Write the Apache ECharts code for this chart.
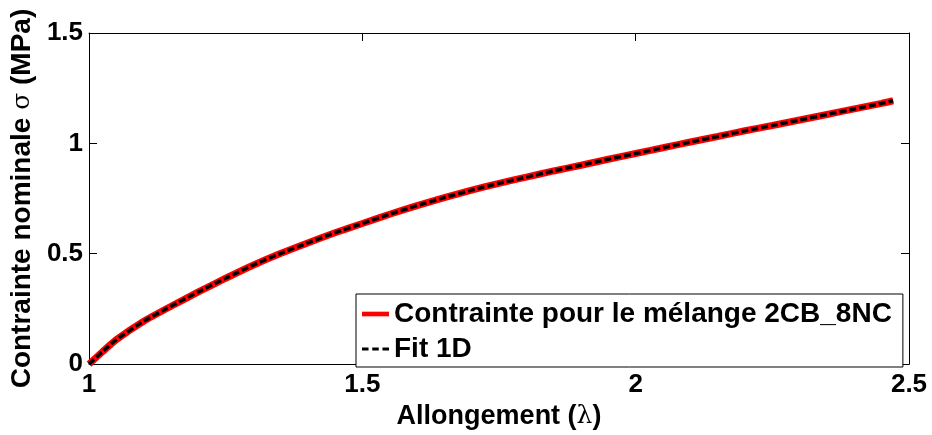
<!DOCTYPE html>
<html>
<head>
<meta charset="utf-8">
<script src="https://cdn.jsdelivr.net/npm/echarts@6/dist/echarts.min.js"></script>
<style>
html,body{margin:0;padding:0;background:#fff;}
#chart{width:932px;height:435px;}
</style>
</head>
<body>
<div id="chart"></div>
<script>
var lambdaValues = [1.00, 1.025, 1.05, 1.10, 1.15, 1.20, 1.25, 1.30, 1.35, 1.40, 1.45, 1.50, 1.55, 1.60, 1.65, 1.70, 1.75, 1.80, 1.85, 1.90, 1.95, 2.00, 2.05, 2.10, 2.15, 2.20, 2.25, 2.30, 2.35, 2.40, 2.45, 2.471];
var stressValues = [0, 0.057, 0.111, 0.194, 0.262, 0.327, 0.389, 0.448, 0.501, 0.549, 0.595, 0.637, 0.679, 0.718, 0.754, 0.788, 0.819, 0.847, 0.875, 0.901, 0.928, 0.954, 0.980, 1.006, 1.031, 1.057, 1.081, 1.106, 1.131, 1.156, 1.181, 1.193];
var fitValues = [0, 0.057, 0.111, 0.194, 0.262, 0.327, 0.389, 0.448, 0.501, 0.549, 0.595, 0.637, 0.679, 0.718, 0.754, 0.788, 0.819, 0.847, 0.875, 0.901, 0.928, 0.954, 0.980, 1.006, 1.031, 1.057, 1.081, 1.106, 1.131, 1.156, 1.181, 1.193];
var seriesNames = ['Contrainte pour le mélange 2CB_8NC', 'Fit 1D'];
var xAxisTitle = 'Allongement ({g|λ})';
var yAxisTitle = 'Contrainte nominale {g|σ} (MPa)';
var xTicks = {min: 1, max: 2.5, interval: 0.5};
var yTicks = {min: 0, max: 1.5, interval: 0.5};

function pairs(xs, ys) {
  return xs.map(function (x, i) { return [x, ys[i]]; });
}

var FONT = "'Liberation Sans', Arial, sans-serif";
var chart = echarts.init(document.getElementById('chart'), null, {renderer: 'canvas'});

function axisBase(extra) {
  var base = {
    type: 'value',
    splitLine: {show: false},
    axisLine: {show: true, onZero: false, lineStyle: {color: '#000', width: 1}},
    axisTick: {show: true, inside: true, length: 8, lineStyle: {color: '#000', width: 1}},
    axisLabel: {color: '#000', fontFamily: FONT, fontWeight: 'bold', fontSize: 26}
  };
  for (var k in extra) base[k] = extra[k];
  return base;
}

var option = {
  backgroundColor: '#fff',
  animation: false,
  grid: {left: 89, right: 23, top: 33, bottom: 64, containLabel: false},
  xAxis: [
    axisBase({
      min: xTicks.min, max: xTicks.max, interval: xTicks.interval,
      position: 'bottom',
      axisLabel: {color: '#000', fontFamily: FONT, fontWeight: 'bold', fontSize: 26, margin: 8},
      name: xAxisTitle,
      nameLocation: 'middle',
      nameGap: 30,
      nameTextStyle: {
        color: '#000', fontFamily: FONT, fontWeight: 'bold', fontSize: 27,
        rich: {g: {fontFamily: "'DejaVu Serif', serif", fontWeight: 'normal', fontSize: 25, color: '#000'}}
      }
    }),
    axisBase({
      min: xTicks.min, max: xTicks.max, interval: xTicks.interval,
      position: 'top',
      axisLabel: {show: false}
    })
  ],
  yAxis: [
    axisBase({
      min: yTicks.min, max: yTicks.max, interval: yTicks.interval,
      position: 'left',
      axisLabel: {color: '#000', fontFamily: FONT, fontWeight: 'bold', fontSize: 26, margin: 6},
      name: yAxisTitle,
      nameLocation: 'middle',
      nameGap: 45,
      nameTextStyle: {
        color: '#000', fontFamily: FONT, fontWeight: 'bold', fontSize: 28,
        rich: {g: {fontFamily: "'DejaVu Serif', serif", fontWeight: 'normal', fontSize: 25, color: '#000'}}
      }
    }),
    axisBase({
      min: yTicks.min, max: yTicks.max, interval: yTicks.interval,
      position: 'right',
      axisLabel: {show: false}
    })
  ],
  legend: {
    orient: 'vertical',
    left: 356,
    top: 294,
    backgroundColor: '#fff',
    borderColor: '#000',
    borderWidth: 1,
    borderRadius: 0,
    padding: [5, 11, 3, 6],
    itemGap: 5,
    itemWidth: 27,
    itemHeight: 30,
    textStyle: {color: '#000', fontFamily: FONT, fontWeight: 'bold', fontSize: 28, lineHeight: 30},
    data: [
      {name: seriesNames[0], icon: 'path://M0,0 L29,0 L29,5 L0,5 Z', itemStyle: {color: '#ff0000'}},
      {name: seriesNames[1], icon: 'path://M0,0 L7,0 L7,3 L0,3 Z M11,0 L18,0 L18,3 L11,3 Z M22,0 L29,0 L29,3 L22,3 Z', itemStyle: {color: '#000'}}
    ]
  },
  series: [
    {
      name: seriesNames[0],
      type: 'line',
      xAxisIndex: 0,
      yAxisIndex: 0,
      data: pairs(lambdaValues, stressValues),
      symbol: 'none',
      smooth: 0.2,
      color: '#ff0000',
      lineStyle: {color: '#ff0000', width: 7},
      z: 2
    },
    {
      name: seriesNames[1],
      type: 'line',
      xAxisIndex: 0,
      yAxisIndex: 0,
      data: pairs(lambdaValues, fitValues),
      symbol: 'none',
      smooth: 0.2,
      color: '#000',
      lineStyle: {color: '#000', width: 3.5, type: [7, 3]},
      z: 3
    }
  ]
};
chart.setOption(option);
</script>
</body>
</html>
